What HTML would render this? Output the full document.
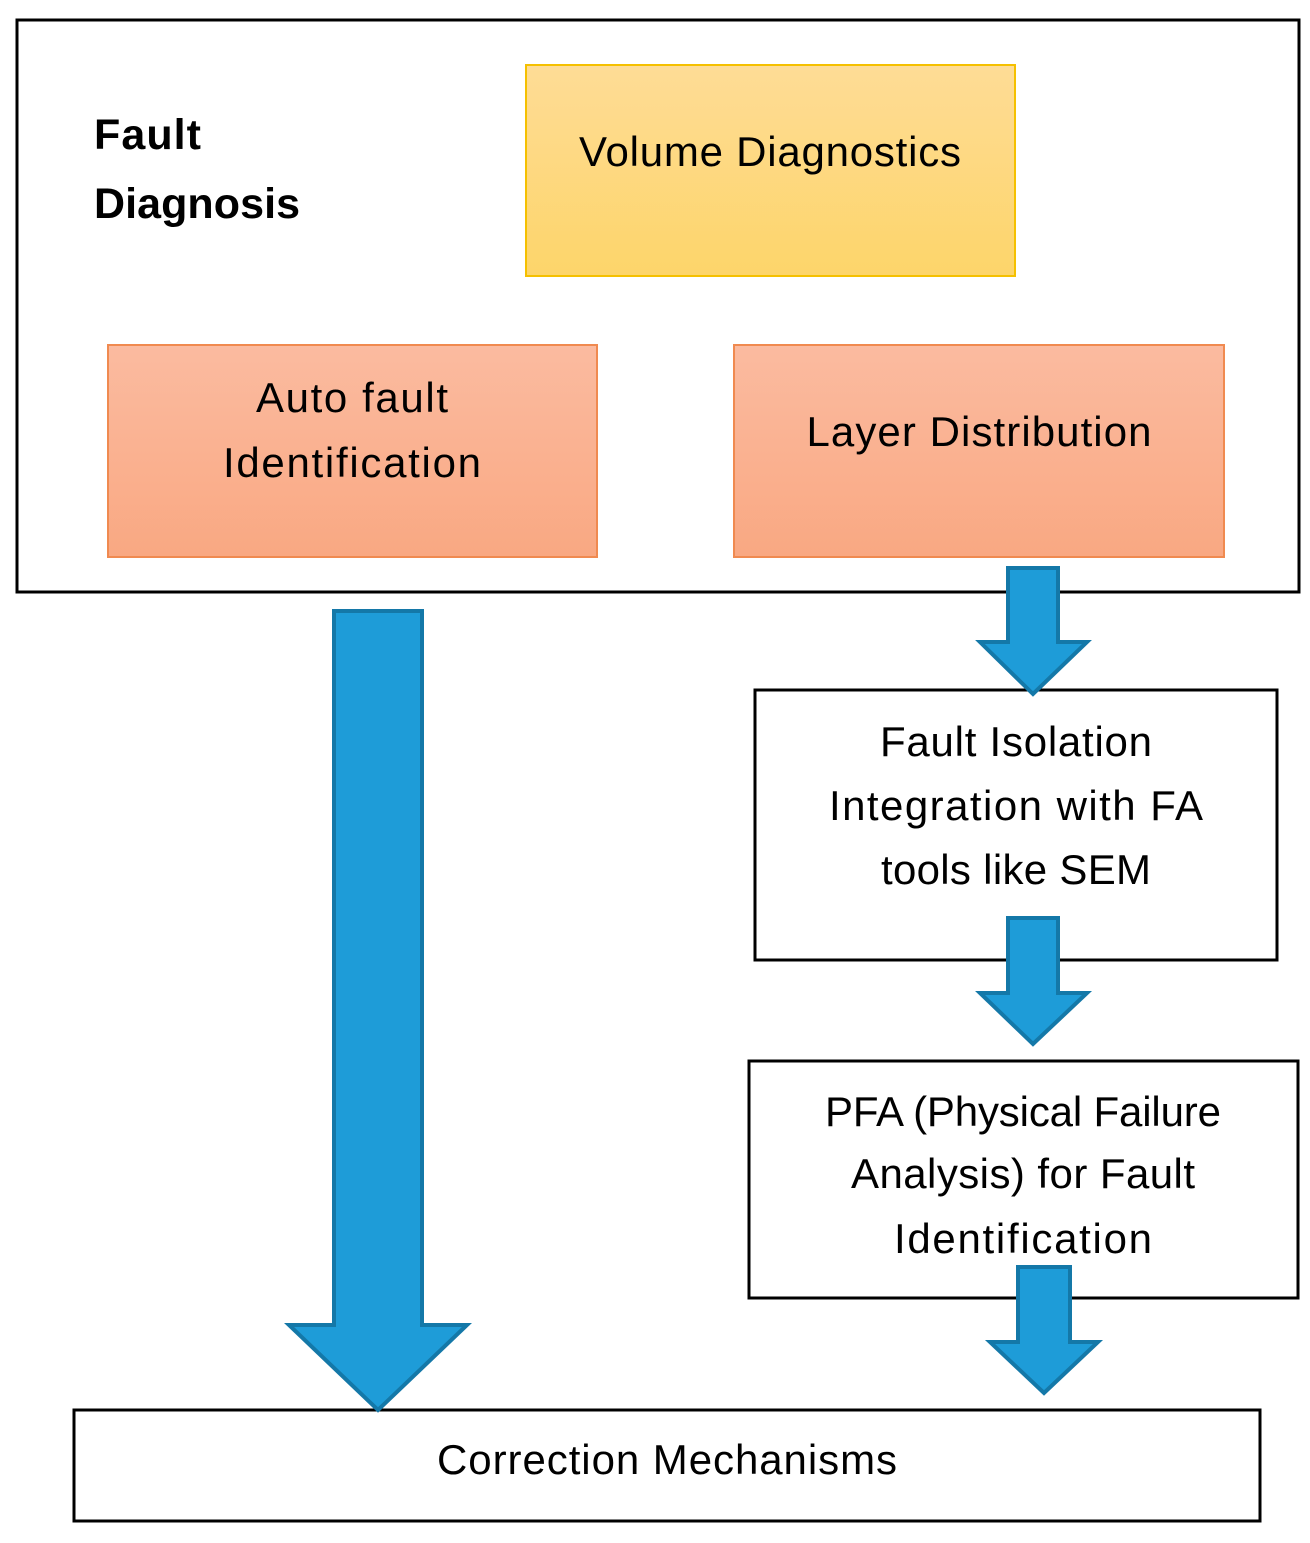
<!DOCTYPE html>
<html><head><meta charset="utf-8"><style>body{margin:0;background:#fff}</style></head><body>
<svg width="1310" height="1538" xmlns="http://www.w3.org/2000/svg" font-family="Liberation Sans, sans-serif">
<defs>
<linearGradient id="y" x1="0" y1="0" x2="0" y2="1"><stop offset="0" stop-color="#fedc96"/><stop offset="1" stop-color="#fdd56a"/></linearGradient>
<linearGradient id="o" x1="0" y1="0" x2="0" y2="1"><stop offset="0" stop-color="#fbbba0"/><stop offset="1" stop-color="#f9a882"/></linearGradient>
</defs>
<rect x="17" y="20" width="1282" height="572" fill="#fff" stroke="#000" stroke-width="3"/>
<rect x="526" y="65" width="489" height="211" fill="url(#y)" stroke="#f5c000" stroke-width="2"/>
<rect x="108" y="345" width="489" height="212" fill="url(#o)" stroke="#f08a50" stroke-width="2"/>
<rect x="734" y="345" width="490" height="212" fill="url(#o)" stroke="#f08a50" stroke-width="2"/>
<rect x="755" y="690" width="522" height="270" fill="#fff" stroke="#000" stroke-width="3"/>
<rect x="749" y="1061" width="549" height="237" fill="#fff" stroke="#000" stroke-width="3"/>
<rect x="74" y="1410" width="1186" height="111" fill="#fff" stroke="#000" stroke-width="3"/>
<g font-size="43" font-weight="bold" fill="#000">
<text x="94" y="149" textLength="107">Fault</text>
<text x="94" y="218" textLength="206">Diagnosis</text>
</g>
<g font-size="42" fill="#000" text-anchor="middle">
<text x="770" y="166" textLength="382">Volume Diagnostics</text>
<text x="352" y="412" textLength="192">Auto fault</text>
<text x="352" y="477" textLength="258">Identification</text>
<text x="979" y="446" textLength="345">Layer Distribution</text>
<text x="1016" y="756" textLength="272">Fault Isolation</text>
<text x="1016" y="820" textLength="374">Integration with FA</text>
<text x="1016" y="884" textLength="270">tools like SEM</text>
<text x="1023" y="1126" textLength="396">PFA (Physical Failure</text>
<text x="1023" y="1188" textLength="344">Analysis) for Fault</text>
<text x="1023" y="1253" textLength="258">Identification</text>
<text x="667" y="1474" textLength="460">Correction Mechanisms</text>
</g>
<g fill="#1e9cd8" stroke="#1478a8" stroke-width="4" stroke-linejoin="miter">
<polygon points="334,611 422,611 422,1325 467,1325 378,1410 289,1325 334,1325"/>
<polygon points="1008,568 1058,568 1058,642 1087,642 1033,694 980,642 1008,642"/>
<polygon points="1008,918 1058,918 1058,993 1087,993 1033,1044 980,993 1008,993"/>
<polygon points="1018,1267 1070,1267 1070,1342 1098,1342 1044,1393 990,1342 1018,1342"/>
</g>
</svg>
</body></html>
